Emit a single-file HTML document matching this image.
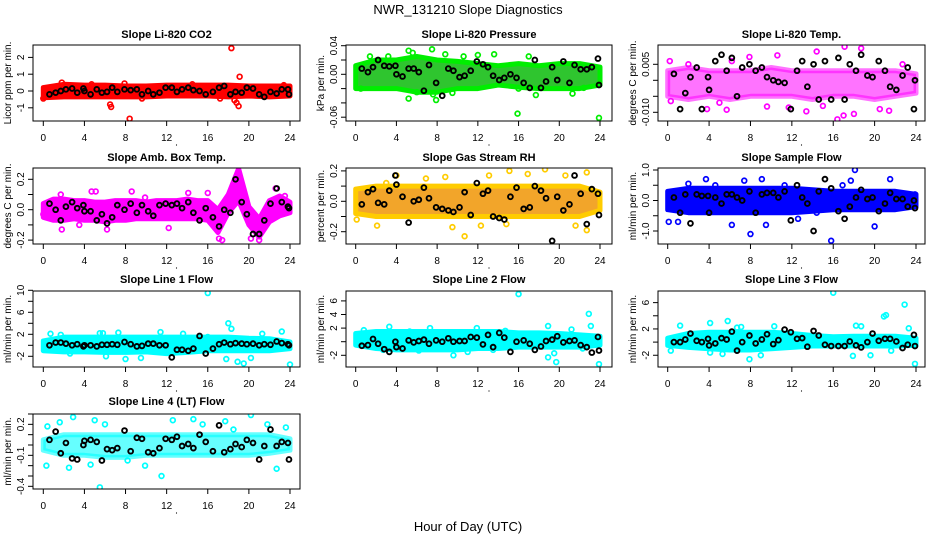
<!DOCTYPE html>
<html><head><meta charset="utf-8"><style>
html,body{margin:0;padding:0;background:#fff;}
svg{display:block;font-family:"Liberation Sans",sans-serif;}
</style></head><body>
<svg id="chart" width="936" height="540" viewBox="0 0 936 540" xmlns="http://www.w3.org/2000/svg">
<text x="468" y="14" font-size="13" text-anchor="middle">NWR_131210  Slope Diagnostics</text>
<text x="468" y="531" font-size="13" text-anchor="middle">Hour of Day (UTC)</text>
</svg>
<script>
const xTicks = [0,4,8,12,16,20,24];
const blackHours = [0.6,1.2,1.7,2.2,2.8,3.3,3.9,4.0,4.6,5.2,5.7,6.2,6.7,7.2,7.9,8.5,9.1,9.6,10.2,10.7,11.3,11.9,12.5,13.0,13.5,14.1,14.6,15.2,15.8,16.5,17.1,17.6,18.2,18.7,19.3,19.8,20.4,21.0,21.5,22.1,22.7,23.2,23.8,23.9];
const bandHours13 = [0,2,4,6,8,10,12,14,16,18,20,22,24];
const bandHours25 = [0,1,2,3,4,5,6,7,8,9,10,11,12,13,14,15,16,17,18,19,20,21,22,23,24];

const co2Black = [-0.2,-0.1,0,0.1,0.15,-0.1,0.15,0,-0.2,0.1,-0.1,-0.05,0.2,-0.05,0.1,0.05,0.1,-0.2,0,-0.2,-0.1,0.2,0.2,-0.05,0.1,0.2,0.05,0,-0.2,-0.05,0.2,0.3,-0.2,-0.05,-0.1,0.2,0.15,-0.2,-0.35,-0.05,-0.15,0.1,0.1,-0.2];
const co2Hi = [0.2,0.4,0.35,0.35,0.3,0.3,0.35,0.35,0.35,0.35,0.3,0.3,0.3];
const co2Lo = [-0.4,-0.35,-0.35,-0.35,-0.35,-0.35,-0.3,-0.3,-0.3,-0.35,-0.3,-0.35,-0.3];
const co2Pts = [[18.3,2.55],[8.4,-1.65],[19.1,0.85],[6.5,-0.8],[6.6,-0.95],[18.6,-0.55],[18.8,-0.7],[19.0,-0.9],[1.8,0.5],[7.9,0.45],[17.2,-0.45],[9.6,-0.45],[14.5,0.4],[4.7,0.4],[0,-0.45],[23.4,0.35]];

const presBlack = [0.008,0.003,0.01,0.02,0.012,0.011,0.012,0.0,-0.003,0.008,0.008,0.003,-0.023,0.013,-0.012,-0.03,0.008,0.005,-0.004,-0.002,0.005,0.018,0.014,0.01,-0.002,-0.008,-0.005,0.0,-0.005,-0.012,-0.019,0.02,-0.019,-0.01,0.01,-0.008,0.018,-0.012,0.013,0.007,0.007,0.01,0.022,-0.015];
const presHi = [0.012,0.02,0.02,0.025,0.02,0.018,0.015,0.012,0.015,0.012,0.015,0.015,0.01];
const presLo = [-0.02,-0.02,-0.02,-0.025,-0.025,-0.02,-0.02,-0.015,-0.018,-0.02,-0.02,-0.02,-0.015];
const presPts = [[7.5,0.035],[5.2,0.033],[5.6,0.03],[1.4,0.025],[8.8,0.028],[13.6,0.028],[15.9,-0.055],[23.9,-0.061],[5.2,-0.034],[7.9,-0.036],[7.6,-0.028],[9.5,-0.026],[21.3,-0.027],[17.7,-0.029],[16.0,-0.02],[3.2,0.025],[10.6,0.025],[6.0,-0.025],[22.4,-0.019],[0.5,-0.02],[12.0,0.027],[17.0,0.025]];

const tempBlack = [0.002,-0.009,-0.004,0.001,0.004,-0.009,0.001,-0.003,0.006,0.008,0.003,0.007,-0.005,0.004,0.005,0.003,0.004,0.001,0.0,-0.0005,-0.0008,-0.009,0.003,0.006,-0.002,0.005,-0.006,0.006,-0.006,0.007,-0.006,0.005,0.003,0.008,0.0015,0.001,0.006,0.003,-0.002,-0.003,0.0015,0.004,-0.009,0.0];
const tempHi = [0.003,0.004,0.003,0.003,0.003,0.004,0.003,0.003,0.003,0.003,0.003,0.003,0.002];
const tempLo = [-0.005,-0.006,-0.005,-0.006,-0.005,-0.005,-0.005,-0.006,-0.005,-0.005,-0.006,-0.005,-0.004];
const tempPts = [[0.2,0.006],[3.8,-0.009],[5.7,-0.0092],[16.4,-0.0122],[17.0,-0.011],[18.0,-0.0105],[13.4,-0.0097],[17.1,0.0105],[18.7,0.010],[14.4,0.009],[10.6,0.0078],[7.9,0.0073],[20.5,-0.009],[21.4,-0.0095],[11.7,-0.0085],[9.6,-0.0082],[2.0,0.005],[6.2,0.006],[22.7,0.005],[0.3,-0.0065],[5.0,-0.007],[15.0,-0.008]];

const ambBlack = [0.04,0.0,-0.07,0.02,0.05,0.01,0.03,-0.01,-0.01,-0.07,-0.03,-0.09,-0.05,0.03,0.0,0.04,-0.02,0.03,-0.01,-0.04,0.03,0.04,0.03,0.04,0.01,0.05,-0.02,-0.07,0.01,-0.05,-0.11,0.0,-0.02,0.2,0.05,-0.03,-0.16,-0.16,-0.07,0.04,0.14,0.05,0.02,0.01];
const ambHi = [0.04,0.07,0.07,0.06,0.06,0.05,0.05,0.06,0.06,0.06,0.05,0.06,0.06,0.06,0.07,0.06,0.06,0.0,0.1,0.27,0.02,-0.06,0.06,0.09,0.05];
const ambLo = [-0.05,-0.07,-0.07,-0.06,-0.07,-0.07,-0.08,-0.07,-0.07,-0.06,-0.06,-0.06,-0.06,-0.06,-0.06,-0.06,-0.07,-0.15,-0.02,0.06,-0.1,-0.18,-0.08,-0.04,-0.02];
const ambPts = [[4.7,0.12],[5.1,0.12],[1.7,0.1],[8.6,0.12],[17.4,-0.2],[17.1,-0.19],[1.8,-0.13],[6.2,-0.13],[12.2,-0.12],[20.2,-0.19],[21.0,-0.2],[16.0,0.11],[14.1,0.11],[9.9,0.08],[22.6,0.14],[23.5,0.09],[0.0,-0.03],[3.5,-0.1]];

const rhBlack = [-0.02,0.06,0.08,-0.01,-0.02,0.07,0.17,0.11,0.03,-0.14,0.0,0.01,0.09,0.02,-0.04,-0.05,-0.06,-0.07,-0.04,0.06,-0.09,0.12,0.05,0.07,-0.1,-0.11,-0.12,0.03,0.09,-0.05,-0.04,0.1,0.07,0.02,-0.26,0.03,-0.06,-0.02,0.17,0.05,-0.15,0.08,0.05,-0.09];
const rhHi = [0.08,0.1,0.1,0.1,0.1,0.1,0.1,0.1,0.1,0.1,0.1,0.1,0.06];
const rhLo = [-0.08,-0.1,-0.1,-0.1,-0.1,-0.1,-0.1,-0.1,-0.1,-0.1,-0.1,-0.1,-0.06];
const rhPts = [[10.7,-0.23],[15.1,0.2],[18.6,0.21],[22.7,0.19],[22.7,-0.19],[2.1,-0.16],[9.5,-0.17],[21.6,-0.16],[8.8,0.16],[4.0,0.17],[13.1,0.17],[16.9,0.18],[20.6,0.17],[0.1,-0.12],[6.9,0.15],[3.0,0.12],[14.8,-0.15],[12.3,-0.16]];

const sfBlack = [0.1,-0.4,0.2,-0.75,0.2,0.15,0.15,-0.4,0.1,-0.1,0.2,0.2,0.1,0.0,0.3,-0.4,0.2,0.25,0.25,0.1,0.3,-0.65,0.5,0.1,-0.1,-1.0,0.3,0.7,0.4,-0.35,-0.6,-0.2,0.1,0.35,0.05,0.1,-0.35,-0.1,0.25,0.05,0.05,-0.2,0.0,-0.25];
const sfHi = [0.3,0.4,0.4,0.4,0.4,0.4,0.4,0.35,0.3,0.3,0.3,0.3,0.2];
const sfLo = [-0.3,-0.4,-0.4,-0.4,-0.4,-0.4,-0.4,-0.35,-0.3,-0.3,-0.3,-0.3,-0.2];
const sfPts = [[0.1,-0.7],[18.1,1.0],[3.7,0.7],[9.1,0.7],[21.5,0.7],[6.2,-0.8],[8.0,-1.1],[9.5,-0.8],[20.0,-0.85],[15.8,-1.32],[17.7,0.65],[12.6,-0.6],[1.0,-0.7],[4.6,0.5],[7.4,0.65],[16.9,0.5],[23.9,0.2],[2.0,0.55],[11.3,0.5],[14.4,-0.4]];

const l1Black = [0.0,0.5,0.5,0.3,0.0,0.2,-0.2,0.0,0.0,-0.2,0.1,0.1,0.2,0.1,0.6,0.2,-0.2,-0.1,0.3,0.3,0.0,0.0,-2.2,-0.8,-0.8,-1.0,-0.6,1.7,-1.5,-0.6,0.2,0.5,0.2,0.4,0.3,0.2,0.3,0.0,0.2,0.1,0.7,0.4,0.2,0.0];
const l1Hi = [0.8,1.5,1.5,1.5,1.5,1.5,1.5,1.5,1.5,1.5,1.3,1.2,0.6];
const l1Lo = [-1.0,-1.2,-1.2,-1.3,-1.3,-1.2,-1.5,-1.3,-1.0,-1.0,-1.0,-1.0,-0.6];
const l1Pts = [[16.0,9.5],[18.0,4.0],[18.3,3.0],[17.8,-2.5],[18.9,-3.0],[19.5,-3.3],[24.0,-3.5],[20.2,-2.3],[0.7,2.1],[5.5,2.2],[5.8,2.2],[7.3,2.3],[11.4,2.4],[23.2,2.5],[1.7,1.9],[13.6,2.1],[9.5,-2.3],[6.1,-2.0],[8.0,-2.5],[2.6,-1.5],[16.0,1.5],[21.3,2.1]];

const l2Black = [-0.6,-0.5,0.4,-0.3,-1.1,-1.5,0.0,-0.8,-1.0,0.2,-0.1,0.1,0.3,-0.3,0.2,0.0,0.5,0.0,0.1,0.1,0.7,0.6,-0.4,1.0,-0.8,1.3,0.6,-1.5,0.0,0.2,-0.3,-1.2,-0.7,0.1,0.3,0.8,-0.1,0.1,0.2,-0.5,-0.8,-1.6,0.7,-1.3];
const l2Hi = [1.2,1.5,1.5,1.5,1.5,1.5,1.5,1.5,1.3,1.3,1.2,1.0,0.8];
const l2Lo = [-0.5,-1.0,-1.2,-1.2,-1.2,-1.2,-1.0,-1.0,-0.8,-0.8,-0.8,-0.8,-0.5];
const l2Pts = [[16.0,7.0],[22.9,4.1],[23.1,2.3],[18.9,2.3],[3.3,2.2],[7.3,2.0],[11.9,2.0],[19.7,-3.0],[23.9,-3.3],[18.9,-2.3],[9.6,-2.0],[19.5,-1.7],[0.8,1.7],[5.3,1.5],[14.7,1.6],[2.7,-1.2],[13.5,-1.2],[11.0,-1.5],[22.3,-1.0],[6.2,-1.3],[21.2,1.8]];

const l3Black = [0.0,0.0,0.4,1.3,0.2,0.0,0.5,-0.5,-0.2,0.6,0.4,1.6,-1.3,0.0,1.0,-0.2,0.4,1.2,-0.3,0.3,1.9,1.5,0.5,0.6,-0.7,1.7,1.0,-0.4,-0.6,-0.6,-0.6,0.1,-0.5,-0.8,0.0,1.3,0.2,0.5,0.5,0.1,-0.9,-0.4,1.1,-0.6];
const l3Hi = [0.6,1.3,1.5,1.5,1.5,1.5,1.3,1.0,0.8,0.9,0.9,0.9,0.6];
const l3Lo = [-0.5,-0.8,-1.0,-1.2,-1.2,-1.0,-0.8,-0.6,-0.6,-0.6,-0.6,-0.6,-0.5];
const l3Pts = [[16.0,7.5],[22.9,5.7],[21.1,4.1],[20.9,3.9],[23.9,-3.3],[7.9,-2.6],[17.9,-2.1],[19.6,-2.0],[5.8,3.2],[4.1,2.9],[1.2,2.5],[6.7,2.2],[7.1,2.3],[10.3,2.4],[18.2,2.5],[18.7,2.4],[23.3,2.1],[4.1,-1.6],[5.3,-1.8],[9.0,-2.0],[0.3,-1.3],[21.6,-1.3]];

const l4Black = [0.05,0.13,-0.08,0.02,-0.13,-0.14,0.0,0.04,0.05,0.03,-0.15,-0.04,-0.05,-0.03,0.14,-0.06,0.07,0.06,-0.07,-0.08,-0.03,0.06,0.05,0.08,-0.01,0.01,-0.03,0.1,0.03,-0.06,0.19,-0.07,-0.04,0.01,-0.02,0.05,0.02,-0.14,-0.01,0.15,-0.01,0.03,0.02,-0.14];
const l4Hi = [0.05,0.1,0.1,0.1,0.1,0.1,0.1,0.1,0.1,0.1,0.1,0.1,0.06];
const l4Lo = [-0.05,-0.1,-0.1,-0.12,-0.12,-0.1,-0.1,-0.1,-0.1,-0.1,-0.1,-0.08,-0.05];
const l4Pts = [[5.5,-0.41],[2.9,0.27],[20.2,0.29],[5.0,0.24],[1.6,0.22],[14.6,0.25],[12.6,0.24],[17.7,0.23],[11.5,-0.3],[0.4,0.18],[0.3,-0.2],[22.7,-0.23],[2.5,-0.22],[6.0,0.2],[18.5,0.15],[21.8,0.2],[4.6,-0.19],[9.9,-0.2],[8.2,-0.15],[23.6,0.17],[15.5,0.2]];

const yTicks1=[-1,0,1,2], yLab1=["-1","0","1","2"];
const yTicks2=[-0.06,-0.04,-0.02,0,0.02,0.04], yLab2=["-0.06","","","0.00","","0.04"];
const yTicks3=[-0.010,-0.005,0,0.005], yLab3=["-0.010","","","0.005"];
const yTicks4=[-0.2,-0.1,0,0.1,0.2], yLab4=["-0.2","","0.0","","0.2"];
const yTicks6=[-1,-0.5,0,0.5,1], yLab6=["-1.0","","0.0","","1.0"];
const yTicks7=[-2,0,2,4,6,8,10], yLab7=["-2","","2","","6","","10"];
const yTicks8=[-2,0,2,4,6], yLab8=["-2","","2","4","6"];
const yTicks9=[-2,0,2,4,6], yLab9=["-2","","2","","6"];
const yTicks10=[-0.4,-0.3,-0.2,-0.1,0,0.1,0.2,0.3], yLab10=["-0.4","","","-0.1","","","0.2",""];

const cols=[{l:33,r:300,x0:43.3,x24:290},{l:346,r:612,x0:355.7,x24:600},{l:658,r:925,x0:667.7,x24:916}];
const rows=[{t:45,b:121,ty:34},{t:168,b:244,ty:157},{t:291,b:367,ty:279},{t:414,b:489,ty:401}];

const panels=[
 {name:"co2",title:"Slope Li-820 CO2",ylab:"Licor ppm per min.",c:0,r:0,y0:91,k:16.8,fill:"#ff0000",pt:"#ff0000",bh:bandHours13,hi:co2Hi,lo:co2Lo,pts:co2Pts,blk:co2Black,yt:yTicks1,yl:yLab1},
 {name:"pressure",title:"Slope Li-820 Pressure",ylab:"kPa per min.",c:1,r:0,y0:74.3,k:715,fill:"#2fc52f",pt:"#00ee00",bh:bandHours13,hi:presHi,lo:presLo,pts:presPts,blk:presBlack,yt:yTicks2,yl:yLab2},
 {name:"li820-temp",title:"Slope Li-820 Temp.",ylab:"degrees C per min.",c:2,r:0,y0:80.3,k:3200,fill:"#ff00ff",pt:"#ff00ff",bh:bandHours13,hi:tempHi,lo:tempLo,pts:tempPts,blk:tempBlack,yt:yTicks3,yl:yLab3,op:0.55},
 {name:"amb-box-temp",title:"Slope Amb. Box Temp.",ylab:"degrees C per min.",c:0,r:1,y0:209.7,k:152,fill:"#ff00ff",pt:"#ff00ff",bh:bandHours25,hi:ambHi,lo:ambLo,pts:ambPts,blk:ambBlack,yt:yTicks4,yl:yLab4},
 {name:"gas-stream-rh",title:"Slope Gas Stream RH",ylab:"percent per min.",c:1,r:1,y0:201.3,k:152,fill:"#f2a52a",pt:"#ffcc00",bh:bandHours13,hi:rhHi,lo:rhLo,pts:rhPts,blk:rhBlack,yt:yTicks4,yl:yLab4},
 {name:"sample-flow",title:"Slope Sample Flow",ylab:"ml/min per min.",c:2,r:1,y0:200.5,k:30.5,fill:"#0000ff",pt:"#0000ff",bh:bandHours13,hi:sfHi,lo:sfLo,pts:sfPts,blk:sfBlack,yt:yTicks6,yl:yLab6},
 {name:"line1-flow",title:"Slope Line 1 Flow",ylab:"ml/min per min.",c:0,r:2,y0:345.3,k:5.5,fill:"#00ffff",pt:"#00ffff",bh:bandHours13,hi:l1Hi,lo:l1Lo,pts:l1Pts,blk:l1Black,yt:yTicks7,yl:yLab7},
 {name:"line2-flow",title:"Slope Line 2 Flow",ylab:"ml/min per min.",c:1,r:2,y0:341.7,k:6.8,fill:"#00ffff",pt:"#00ffff",bh:bandHours13,hi:l2Hi,lo:l2Lo,pts:l2Pts,blk:l2Black,yt:yTicks8,yl:yLab8},
 {name:"line3-flow",title:"Slope Line 3 Flow",ylab:"ml/min per min.",c:2,r:2,y0:342.1,k:6.58,fill:"#00ffff",pt:"#00ffff",bh:bandHours13,hi:l3Hi,lo:l3Lo,pts:l3Pts,blk:l3Black,yt:yTicks9,yl:yLab9},
 {name:"line4-flow",title:"Slope Line 4 (LT) Flow",ylab:"ml/min per min.",c:0,r:3,y0:445,k:103.3,fill:"#00ffff",pt:"#00ffff",bh:bandHours13,hi:l4Hi,lo:l4Lo,pts:l4Pts,blk:l4Black,yt:yTicks10,yl:yLab10,op:0.6}
];

const NS="http://www.w3.org/2000/svg";
const svg=document.getElementById('chart');
function mk(tag,attrs,parent){const e=document.createElementNS(NS,tag);for(const a in attrs)e.setAttribute(a,attrs[a]);(parent||svg).appendChild(e);return e;}

panels.forEach(p=>{
  const c=cols[p.c], r=rows[p.r];
  const xs=h=>c.x0+h*(c.x24-c.x0)/24;
  const ys=v=>p.y0-v*p.k;
  const g=mk('g',{});
  
  
  const clip=mk('clipPath',{id:'clip-'+p.name},g);
  mk('rect',{x:c.l,y:r.t,width:c.r-c.l,height:r.b-r.t},clip);
  const plot=mk('g',{'clip-path':'url(#clip-'+p.name+')'},g);
  let d='';
  p.bh.forEach((h,i)=>{d+=(i?'L':'M')+xs(h).toFixed(1)+','+ys(p.hi[i]).toFixed(1);});
  for(let i=p.bh.length-1;i>=0;i--){d+='L'+xs(p.bh[i]).toFixed(1)+','+ys(p.lo[i]).toFixed(1);}
  d+='Z';
  const band=mk('path',{d:d,fill:p.fill,stroke:p.pt,'stroke-width':5,'stroke-linejoin':'round','fill-opacity':p.op||1,'stroke-opacity':p.op||1},plot);
  
  
  p.pts.forEach(q=>{
    const ci=mk('circle',{cx:xs(q[0]),cy:ys(q[1]),r:2.4,fill:'none',stroke:p.pt,'stroke-width':1.7},plot);
    
    
  });
  blackHours.forEach((h,i)=>{
    const ci=mk('circle',{cx:xs(h),cy:ys(p.blk[i]),r:2.4,fill:'none',stroke:'#000','stroke-width':1.9},plot);
    
    
  });
  const box=mk('rect',{x:c.l,y:r.t,width:c.r-c.l,height:r.b-r.t,fill:'none',stroke:'#000','stroke-width':1},g);
  
  
  const t=mk('text',{x:(c.l+c.r)/2,y:r.ty+4,'font-size':11,'font-weight':'bold','text-anchor':'middle'},g);
  t.textContent=p.title;
  
  
  xTicks.forEach(v=>{
    const x=xs(v);
    mk('line',{x1:x,x2:x,y1:r.b,y2:r.b+5,stroke:'#000'},g);
    const tl=mk('text',{x:x,y:r.b+20,'font-size':10,'text-anchor':'middle'},g);
    tl.textContent=v;
    
    
  });
  mk('circle',{cx:(c.l+c.r)/2+10,cy:r.b+24,r:0.6,fill:'#000'},g);
  p.yt.forEach((v,i)=>{
    const y=ys(v);
    mk('line',{x1:c.l-5,x2:c.l,y1:y,y2:y,stroke:'#000'},g);
    if(p.yl[i]){
      const tl=mk('text',{x:c.l-9,y:y,'font-size':10,'text-anchor':'middle',transform:'rotate(-90 '+(c.l-9)+' '+y+')'},g);
      tl.textContent=p.yl[i];
      
      
    }
  });
  const cy=(r.t+r.b)/2;
  const yl=mk('text',{x:c.l-22,y:cy,'font-size':10,'text-anchor':'middle',transform:'rotate(-90 '+(c.l-22)+' '+cy+')'},g);
  yl.textContent=p.ylab;
  
  
});
</script>
</body></html>
